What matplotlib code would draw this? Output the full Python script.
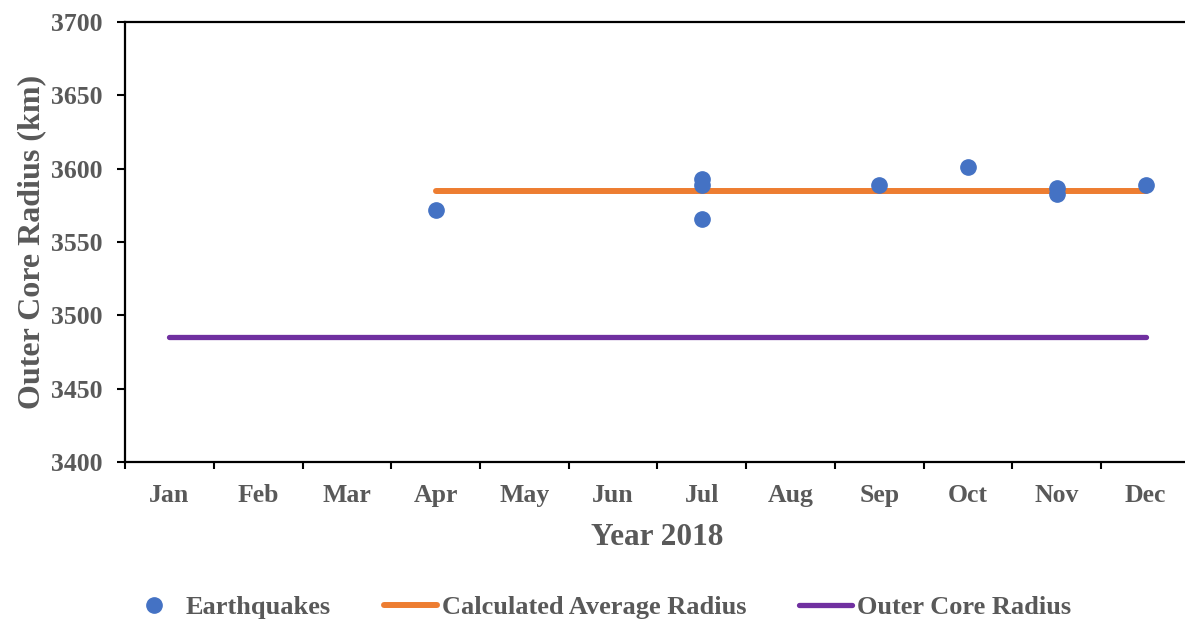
import matplotlib
matplotlib.use("Agg")
import matplotlib.pyplot as plt
import numpy as np

months = ["Jan", "Feb", "Mar", "Apr", "May", "Jun",
          "Jul", "Aug", "Sep", "Oct", "Nov", "Dec"]

# earthquake estimates (month index, radius in km)
quake_month = [3, 6, 6, 6, 8, 9, 10, 10, 11]
quake_radius = [3572, 3593, 3589, 3566, 3589, 3601, 3587, 3583, 3589]

avg_month = [3, 11]
avg_radius = [3585, 3585]

core_month = [0, 11]
core_radius = [3485, 3485]

yticks = [3400, 3450, 3500, 3550, 3600, 3650, 3700]

grey = "#595959"
plt.rcParams["font.family"] = ["Liberation Serif", "DejaVu Serif"]
plt.rcParams["font.weight"] = "bold"
plt.rcParams["axes.labelweight"] = "bold"

fig = plt.figure(figsize=(11.85, 6.22), dpi=100)
ax = fig.add_axes([0.1055, 0.2572, 0.8987, 0.7074])

ax.plot(quake_month, quake_radius, linestyle="none", marker="o",
        markersize=11, color="#4472C4", label="Earthquakes", zorder=3)
ax.plot(avg_month, avg_radius, color="#ED7D31", linewidth=4.3,
        solid_capstyle="round", label="Calculated Average Radius")
ax.plot(core_month, core_radius, color="#7030A0", linewidth=3.8,
        solid_capstyle="round", label="Outer Core Radius")

ax.set_xlim(-0.5, 11.5)
ax.set_ylim(3400, 3700)

# category axis: ticks between months, labels at the centres
ax.set_xticks(np.arange(-0.5, 12, 1))
ax.set_xticklabels([])
ax.set_xticks(np.arange(12), minor=True)
ax.set_xticklabels(months, minor=True)
ax.tick_params(axis="x", which="major", length=5, width=1.5, direction="out")
ax.tick_params(axis="x", which="minor", length=0, pad=15.5,
               labelsize=18.5, labelcolor=grey)

ax.set_yticks(yticks)
ax.set_yticklabels([str(v) for v in yticks])
ax.tick_params(axis="y", length=6, width=1.5, direction="out", pad=10,
               labelsize=18.5, labelcolor=grey)

for side in ["left", "bottom", "top"]:
    ax.spines[side].set_linewidth(1.6)
ax.spines["right"].set_visible(False)

ax.set_xlabel("Year 2018", fontsize=22.5, color=grey, labelpad=12)
ax.set_ylabel("Outer Core Radius (km)", fontsize=23, color=grey, labelpad=4)

fig.legend(loc="center", bbox_to_anchor=(0.506, 0.024), ncol=3,
           frameon=False, fontsize=19, handlelength=2, handletextpad=0.2,
           columnspacing=2, labelcolor=grey)

fig.savefig("out.png", dpi=100)
